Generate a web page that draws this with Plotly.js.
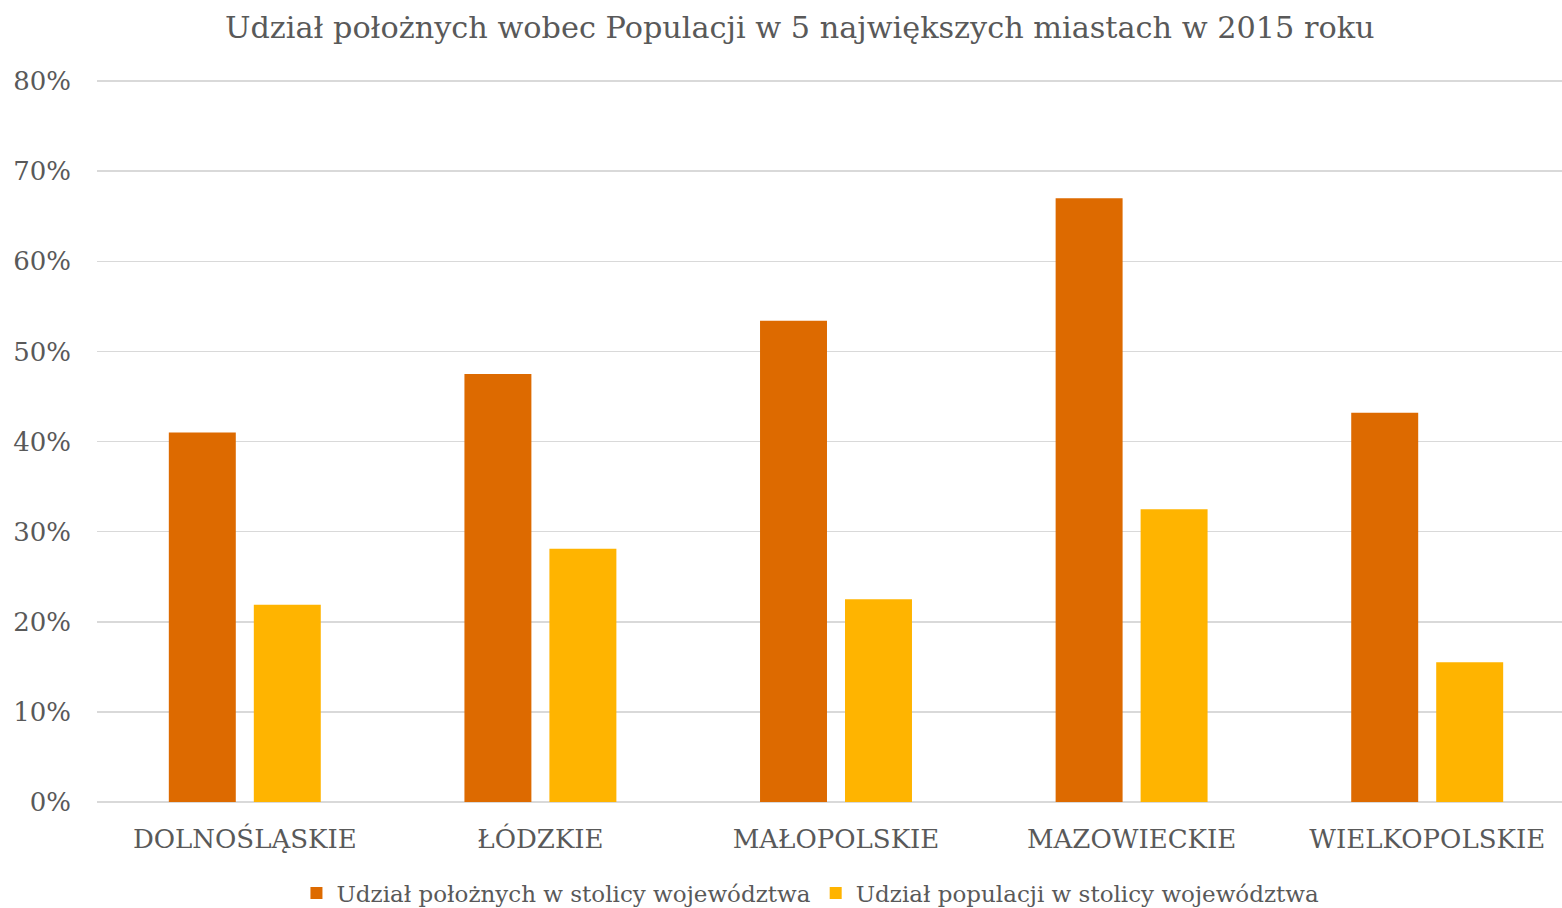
<!DOCTYPE html>
<html>
<head>
<meta charset="utf-8">
<script src="https://cdn.plot.ly/plotly-3.0.1.min.js"></script>
<style>
html,body{margin:0;padding:0;background:#fff;}
#chart{width:1562px;height:908px;}
</style>
</head>
<body>
<div id="chart"></div>
<script>
const categories = ["DOLNOŚLĄSKIE", "ŁÓDZKIE", "MAŁOPOLSKIE", "MAZOWIECKIE", "WIELKOPOLSKIE"];
const seriesNames = ["Udział położnych w stolicy województwa", "Udział populacji w stolicy województwa"];
const midwivesShare = [0.410, 0.475, 0.534, 0.670, 0.432];
const populationShare = [0.219, 0.281, 0.225, 0.325, 0.155];
const colors = ["#DD6A00", "#FFB400"];
const yTickVals = [0, 0.1, 0.2, 0.3, 0.4, 0.5, 0.6, 0.7, 0.8];
const yTickText = ["0%", "10%", "20%", "30%", "40%", "50%", "60%", "70%", "80%"];

const FONT = "'DejaVu Serif', Georgia, serif";
const GREY = "#595959";

const traces = [
  {type: "bar", name: seriesNames[0], x: categories, y: midwivesShare,
   marker: {color: colors[0]}, hoverinfo: "x+y"},
  {type: "bar", name: seriesNames[1], x: categories, y: populationShare,
   marker: {color: colors[1]}, hoverinfo: "x+y"}
];

const layout = {
  width: 1562, height: 908,
  paper_bgcolor: "#fff", plot_bgcolor: "#fff",
  margin: {l: 97, r: 0, t: 80, b: 106, pad: 0, autoexpand: false},
  barmode: "group", bargap: 0.425, bargroupgap: 0.212,
  title: {text: "Udział położnych wobec Populacji w 5 największych miastach w 2015 roku",
          font: {family: FONT, size: 30.3, color: GREY}, x: 0.512, xanchor: "center", y: 0.97, yanchor: "middle"},
  font: {family: FONT, color: GREY},
  xaxis: {type: "category", range: [-0.5, 4.456], showgrid: false, zeroline: false, showline: false, automargin: false,
          ticks: "", tickfont: {family: FONT, size: 26, color: GREY}, ticklabelstandoff: 19, fixedrange: true},
  yaxis: {range: [0, 0.8012], tickvals: yTickVals, ticktext: yTickText, showgrid: true, gridcolor: "#D9D9D9",
          gridwidth: 1.5, zeroline: true, zerolinecolor: "#D9D9D9", zerolinewidth: 1.5, showline: false, automargin: false,
          ticks: "", tickfont: {family: FONT, size: 26, color: GREY}, ticklabelstandoff: 25, fixedrange: true},
  showlegend: true,
  legend: {orientation: "h", x: 0.487, xanchor: "center", y: -0.126, yanchor: "middle",
           font: {family: FONT, size: 23, color: GREY}, itemwidth: 30, traceorder: "normal"}
};

Plotly.newPlot("chart", traces, layout, {displayModeBar: false, staticPlot: true});
</script>
</body>
</html>
